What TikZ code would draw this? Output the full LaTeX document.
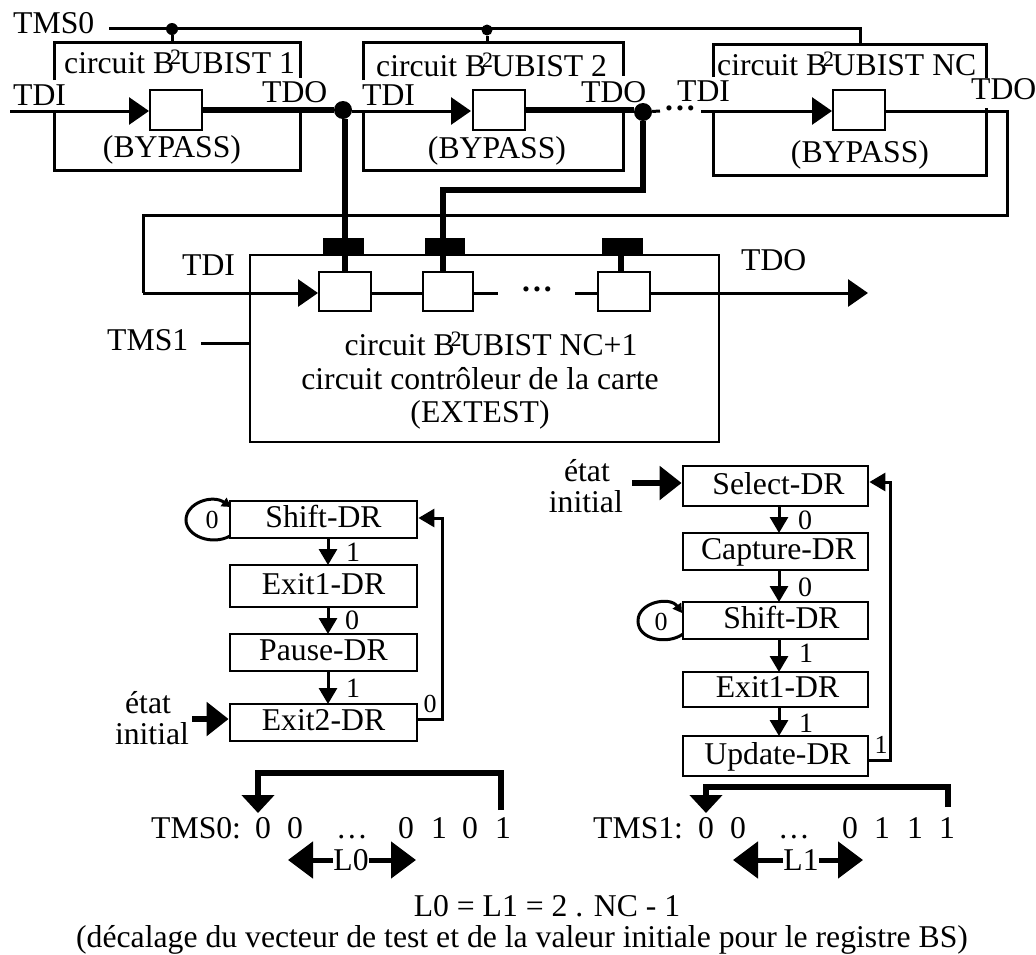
\documentclass[tikz,border=0pt]{standalone}
\usepackage{fontspec}
\setmainfont{Liberation Serif}
\usetikzlibrary{arrows.meta}
\newcommand{\Bsq}{B\kern-4pt\raisebox{9pt}{\fontsize{22}{22}\selectfont 2}\kern-1.5pt}
\newcommand{\tdots}{\textbf{.\kern3pt.\kern3pt.}}
\newcommand{\fsm}[6]{%
  \pgfmathsetmacro{\cxx}{(#2+#4)/2}\pgfmathsetmacro{\cyy}{(#3+#5)/2}%
  \pgfmathsetmacro{\wdd}{#4-#2}\pgfmathsetmacro{\htt}{#5-#3}%
  \node[statebox,minimum width=\wdd pt,minimum height=\htt pt] (#1) at (\cxx,\cyy) {#6};}
\newcommand{\cellbox}[5]{%
  \pgfmathsetmacro{\cxx}{(#2+#4)/2}\pgfmathsetmacro{\cyy}{(#3+#5)/2}%
  \pgfmathsetmacro{\wdd}{#4-#2}\pgfmathsetmacro{\htt}{#5-#3}%
  \node[cell,minimum width=\wdd pt,minimum height=\htt pt] (#1) at (\cxx,\cyy) {};}
\tikzset{
  wire/.style={line width=3pt,line join=miter},
  bus/.style={line width=6.5pt,line join=miter},
  head/.style={-{Triangle[length=20pt,width=27pt]}},
  smallhead/.style={-{Triangle[length=16pt,width=18pt]}},
  bighead/.style={-{Triangle[length=22pt,width=33pt]}},
  cell/.style={draw,line width=2.8pt,inner sep=0pt,fill=white},
  statebox/.style={draw,line width=2.8pt,inner sep=0pt,text height=20pt,text depth=4pt,font=\fontsize{31.7}{36}\selectfont},
  txt/.style={inner sep=0pt,anchor=base,font=\fontsize{31.7}{36}\selectfont},
  txw/.style={txt,anchor=base west},
  txe/.style={txt,anchor=base east},
  dig/.style={inner sep=0pt,anchor=base,font=\fontsize{28}{30}\selectfont},
  tiny/.style={inner sep=0pt,anchor=base,font=\fontsize{26}{28}\selectfont},
  dotj/.style={circle,fill=black,inner sep=0pt},
  pad/.style={fill=black,inner sep=0pt},
}
\begin{document}
\begin{tikzpicture}[x=1pt,y=-1pt]
\useasboundingbox (0,0) rectangle (1036,954);
% TMS0 bus
\node[txw] (tms0) at (13,33) {TMS0};
\coordinate (tms0a) at (109,28);
\coordinate (tms0c) at (860,28);
\coordinate (c3top) at (860,44);
\node[dotj,minimum size=12pt] (tap1) at (172,29) {};
\node[dotj,minimum size=11pt] (tap2) at (487,30) {};
\coordinate (c1top) at (172,42);
\coordinate (c2top) at (487,42);
\draw[wire] (tms0a) -- (tms0c |- tms0a) -- (c3top);
\draw[wire] (tap1) -- (c1top);
\draw[wire] (tap2) -- (c2top);
% circuit outlines
\draw[wire] (54,80) -- (54,42) -- (300,42) -- (300,78);
\draw[wire] (54,111) -- (54,170) -- (300,170) -- (300,112);
\draw[wire] (363,80) -- (363,42) -- (623,42) -- (623,76);
\draw[wire] (363,111) -- (363,170) -- (623,170) -- (623,112);
\draw[wire] (713,77) -- (713,44) -- (986,44) -- (986,78);
\draw[wire] (713,111) -- (713,175) -- (986,175) -- (986,108);
% circuit labels
\node[txw] (c1t) at (64,73) {circuit \Bsq UBIST 1};
\node[txw] (c2t) at (376,76) {circuit \Bsq UBIST 2};
\node[txw] (c3t) at (717,75) {circuit \Bsq UBIST NC};
\node[txw] (tdi1) at (13,105) {TDI};
\node[txw] (tdo1) at (262,102) {TDO};
\node[txw] (tdi2) at (362,105) {TDI};
\node[txw] (tdo2) at (581,102) {TDO};
\node[txw] (tdi3) at (677,101) {TDI};
\node[txw] (tdo3) at (971,99) {TDO};
\node[txt] (by1) at (172,157) {(BYPASS)};
\node[txt] (by2) at (497,158) {(BYPASS)};
\node[txt] (by3) at (860,162) {(BYPASS)};
\node[txt] (ddd1) at (680,110) {\tdots};
% bypass cells
\cellbox{b1}{150}{90}{202}{130}
\cellbox{b2}{473}{90}{525}{130}
\cellbox{b3}{833}{90}{885}{130}
\coordinate (in1) at (10,111);
\node[dotj,minimum width=18pt,minimum height=16pt] (j1) at (343,110) {};
\node[dotj,minimum size=18pt] (j2) at (643,112) {};
\coordinate (s2) at (660,111);
\coordinate (s3) at (701,111);
\coordinate (turnR) at (1007,111);
\coordinate (turnRb) at (1007,215);
\coordinate (turnL) at (143,215);
\coordinate (turnLb) at (143,293);
\draw[wire,head] (in1) -- (149,111);
\draw[bus] (b1.east) -- (j1);
\draw[wire,head] (j1.east |- 0,111) -- (471,111);
\draw[bus] (b2.east |- 0,110) -- (j2.west |- 0,110);
\draw[wire] (j2) -- (s2);
\draw[wire,head] (s3) -- (832,111);
\draw[wire] (b3.east |- 0,111) -- (turnR) -- (turnRb) -- (turnL) -- (turnLb);
% EXTEST board
\node[draw,line width=2.8pt,minimum width=469pt,minimum height=187pt,inner sep=0pt] (main) at (484.5,348.5) {};
\node[pad,minimum width=41pt,minimum height=17pt] (p1) at (343.5,246.5) {};
\node[pad,minimum width=40pt,minimum height=17pt] (p2) at (445,246.5) {};
\node[pad,minimum width=41pt,minimum height=17pt] (p3) at (622.5,246.5) {};
\cellbox{m1}{319}{272}{371}{311}
\cellbox{m2}{423}{272}{473}{311}
\cellbox{m3}{598}{272}{650}{311}
\coordinate (m1s) at (345,272);
\coordinate (m2s) at (443,272);
\coordinate (m3s) at (621,272);
\draw[bus] (j1.south -| m1s) -- (m1s);
\draw[bus] (j2.south) -- (643,190) -- (443,190) -- (m2s);
\draw[line width=6pt] (p3.south -| m3s) -- (m3s);
\draw[wire,head] (turnLb) -- (318,293);
\coordinate (g1) at (498,293);
\coordinate (g2) at (575,293);
\coordinate (outR) at (868,293);
\draw[wire] (m1.east |- g1) -- (m2.west |- g1);
\draw[wire] (m2.east |- g1) -- (g1);
\draw[wire] (g2) -- (m3.west |- g2);
\draw[wire,head] (m3.east |- g1) -- (outR);
\node[txt] (ddd2) at (537,291) {\tdots};
\node[txw] (tdim) at (182,275) {TDI};
\node[txw] (tdom) at (741,270) {TDO};
\node[txw] (tms1) at (107,350) {TMS1};
\coordinate (tms1a) at (201,343);
\draw[wire] (tms1a) -- (main.west |- tms1a);
\node[txt] (mt1) at (491,355) {circuit \Bsq UBIST NC+1};
\node[txt] (mt2) at (480,389) {circuit contrôleur de la carte};
\node[txt] (mt3) at (480,422) {(EXTEST)};
% left state machine
\fsm{ls}{230}{501}{417}{538}{Shift-DR}
\fsm{le1}{230}{565}{417}{607}{Exit1-DR}
\fsm{lp}{230}{634}{417}{671}{Pause-DR}
\fsm{le2}{230}{704}{417}{741}{Exit2-DR}
\draw[wire,smallhead] (328,538) -- (328,565);
\draw[wire,smallhead] (328,607) -- (328,634);
\draw[wire,smallhead] (328,671) -- (328,704);
\node[dig] (l1) at (353,561) {1};
\node[dig] (l2) at (352,629) {0};
\node[dig] (l3) at (353,697) {1};
\node[tiny] (l4) at (430,712) {0};
\node[tiny] (l5) at (212,528) {0};
\coordinate (lrb) at (442,719);
\coordinate (lrt) at (442,518);
\draw[wire,smallhead] (le2.east |- lrb) -- (lrb) -- (lrt) -- (ls.east |- lrt);
\draw[wire,-{Triangle[length=9pt,width=10pt]}] (230,536) .. controls (212,546) and (186,536) .. (186,520) .. controls (186,503) and (212,494) .. (231,507);
\node[txt] (le) at (148,713) {état};
\node[txt] (li) at (152,744) {initial};
\coordinate (lia) at (192,719);
\draw[line width=6pt,bighead] (lia) -- (le2.west |- lia);
% right state machine
\fsm{rs}{683}{466}{868}{506}{\hspace{6pt}Select-DR}
\fsm{rc}{683}{533}{868}{570}{\hspace{6pt}Capture-DR}
\fsm{rsh}{683}{602}{868}{639}{\hspace{12pt}Shift-DR}
\fsm{re}{683}{672}{868}{707}{\hspace{4pt}Exit1-DR}
\fsm{ru}{683}{736}{868}{776}{\hspace{4pt}Update-DR}
\draw[wire,smallhead] (779,506) -- (779,533);
\draw[wire,smallhead] (779,570) -- (779,602);
\draw[wire,smallhead] (779,639) -- (779,672);
\draw[wire,smallhead] (779,707) -- (779,736);
\node[dig] (r1) at (805,529) {0};
\node[dig] (r2) at (805,596) {0};
\node[dig] (r3) at (806,662) {1};
\node[dig] (r4) at (806,732) {1};
\node[tiny] (r5) at (881,753) {1};
\node[tiny] (r6) at (661,630) {0};
\coordinate (rrb) at (890,760);
\coordinate (rrt) at (890,482);
\draw[wire,smallhead] (ru.east |- rrb) -- (rrb) -- (rrt) -- (rs.east |- rrt);
\draw[wire,-{Triangle[length=9pt,width=10pt]}] (683,634) .. controls (668,645) and (638,640) .. (638,621) .. controls (638,602) and (670,596) .. (682,613);
\node[txe] (re1) at (610,481) {état};
\node[txe] (ri1) at (623,512) {initial};
\coordinate (ria) at (632,483);
\draw[line width=6pt,bighead] (ria) -- (rs.west |- ria);
% TMS0 sequence
\node[txw] (seq0) at (151,838) {TMS0:};
\node[txt] (a1) at (263,838) {0};
\node[txt] (a2) at (295,838) {0};
\node[txt] (a3) at (352,838) {…};
\node[txt] (a4) at (406,838) {0};
\node[txt] (a5) at (439,838) {1};
\node[txt] (a6) at (470,838) {0};
\node[txt] (a7) at (503,838) {1};
\coordinate (af) at (501,810);
\coordinate (at) at (258,813);
\draw[line width=6.5pt,-{Triangle[length=18pt,width=32pt]}] (af) -- (501,773) -- (258,773) -- (at);
% TMS1 sequence
\node[txw] (seq1) at (593,838) {TMS1:};
\node[txt] (b1x) at (706,838) {0};
\node[txt] (b2x) at (738,838) {0};
\node[txt] (b3x) at (794,838) {…};
\node[txt] (b4x) at (850,838) {0};
\node[txt] (b5x) at (882,838) {1};
\node[txt] (b6x) at (915,838) {1};
\node[txt] (b7x) at (947,838) {1};
\coordinate (bf) at (948,807);
\coordinate (bt) at (706,813);
\draw[line width=6.5pt,-{Triangle[length=18pt,width=32pt]}] (bf) -- (948,787) -- (706,787) -- (bt);
% L0 / L1 spans
\node[txt] (L0) at (351,870) {L0};
\node[txt] (L1) at (801,870) {L1};
\coordinate (L0l) at (288,860);
\coordinate (L0r) at (416,860);
\coordinate (L1l) at (733,860);
\coordinate (L1r) at (863,860);
\draw[line width=5pt,-{Triangle[length=25pt,width=36pt]}] (L0.west |- L0l) -- (L0l);
\draw[line width=5pt,-{Triangle[length=25pt,width=36pt]}] (L0.east |- L0r) -- (L0r);
\draw[line width=5pt,-{Triangle[length=25pt,width=36pt]}] (L1.west |- L1l) -- (L1l);
\draw[line width=5pt,-{Triangle[length=25pt,width=36pt]}] (L1.east |- L1r) -- (L1r);
\node[txt] (eq) at (547,916) {L0 = L1 = 2 . NC - 1};
\node[txt] (note) at (522,947) {(décalage du vecteur de test et de la valeur initiale pour le registre BS)};
\end{tikzpicture}
\end{document}
